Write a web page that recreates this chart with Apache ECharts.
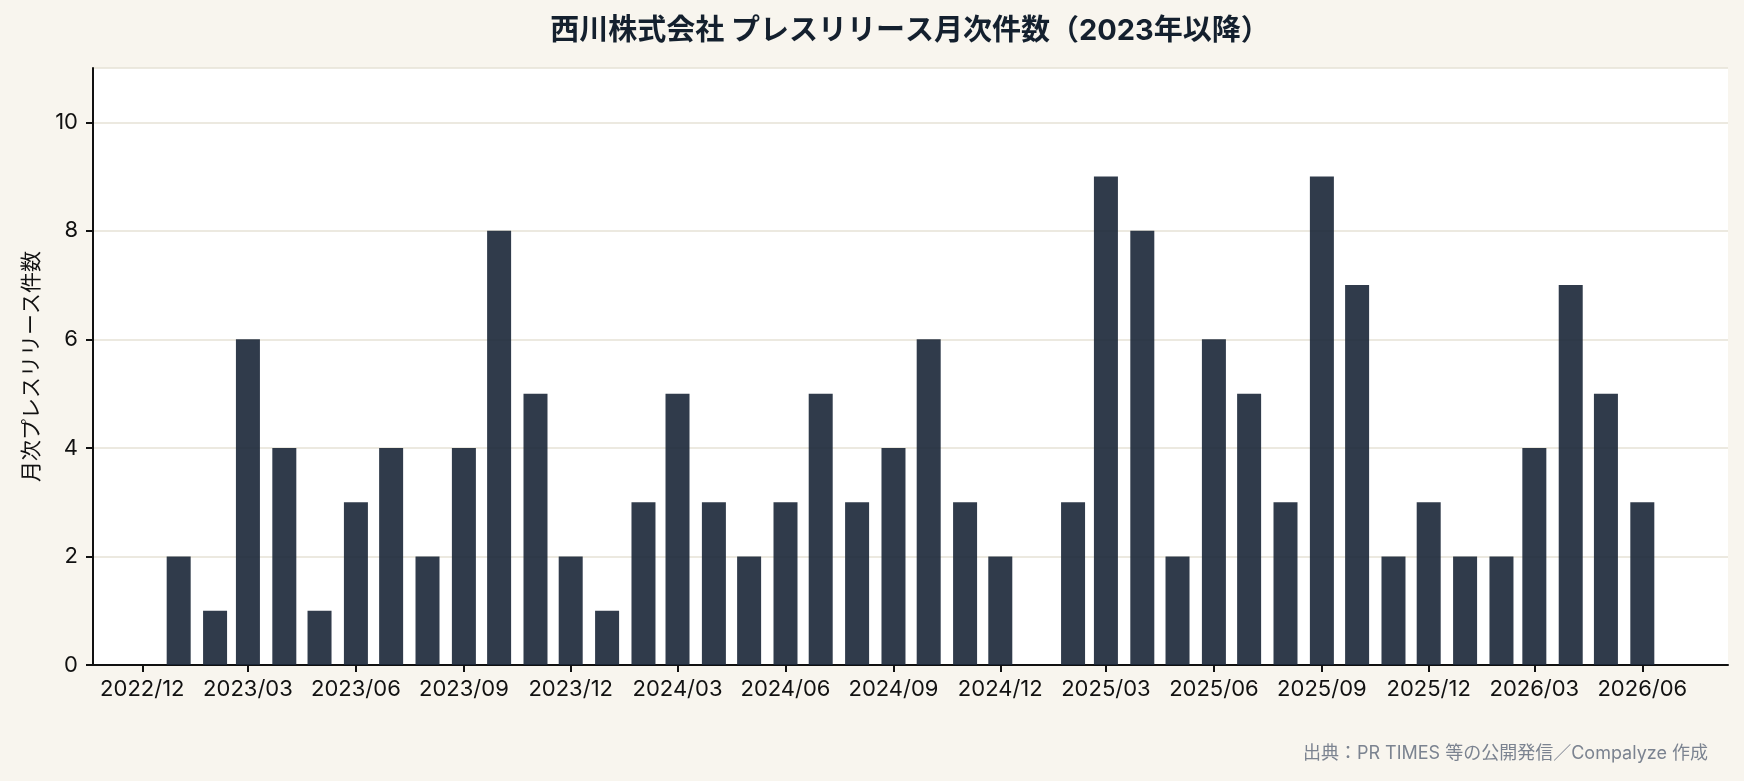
<!DOCTYPE HTML>
<html>
	<head>
		<meta http-equiv="Content-type" content="text/html; charset=UTF-8" />
		<script type="text/javascript" src="https://cdn.jsdelivr.net/npm/echarts@6/dist/echarts.min.js"></script>
		<style>
			html, body { margin: 0; padding: 0; background: #f8f5ee; }
			#div_1 { width: 1744px; height: 781px; }
		</style>
		<script type="text/javascript">
			// 月次データ（2023/01〜2026/06）
			var months = [
				'2023-01','2023-02','2023-03','2023-04','2023-05','2023-06','2023-07','2023-08','2023-09','2023-10','2023-11','2023-12',
				'2024-01','2024-02','2024-03','2024-04','2024-05','2024-06','2024-07','2024-08','2024-09','2024-10','2024-11','2024-12',
				'2025-01','2025-02','2025-03','2025-04','2025-05','2025-06','2025-07','2025-08','2025-09','2025-10','2025-11','2025-12',
				'2026-01','2026-02','2026-03','2026-04','2026-05','2026-06'
			];
			var counts = [
				2, 1, 6, 4, 1, 3, 4, 2, 4, 8, 5, 2,
				1, 3, 5, 3, 2, 3, 5, 3, 4, 6, 3, 2,
				0, 3, 9, 8, 2, 6, 5, 3, 9, 7, 2, 3,
				2, 2, 4, 7, 5, 3
			];
			// x軸の目盛（3か月ごと）
			var tickMonths = ['2022-12','2023-03','2023-06','2023-09','2023-12','2024-03','2024-06','2024-09','2024-12',
				'2025-03','2025-06','2025-09','2025-12','2026-03','2026-06'];

			function toTime(s) {
				var p = s.split('-');
				return Date.UTC(+p[0], +p[1] - 1, +p[2] || 1);
			}
			function pad(n) { return n < 10 ? '0' + n : '' + n; }

			window.onload = function () {
				var myChart = echarts.init(document.getElementById('div_1'));
				var font = "Inter, 'Noto Sans CJK JP', sans-serif";
				var data = months.map(function (m, i) { return [toTime(m), counts[i]]; });
				var ticks = tickMonths.map(toTime);

				var option = {
					backgroundColor: '#f8f5ee',
					textStyle: { fontFamily: font },
					// タイトルはプロット領域の中央に置く
					graphic: [{
						type: 'text',
						x: 910,
						y: 31,
						style: {
							text: '西川株式会社 プレスリリース月次件数（2023年以降）',
							fill: '#14202e',
							font: "bold 29px Inter, 'Noto Sans CJK JP', sans-serif",
							align: 'center',
							verticalAlign: 'middle'
						}
					}, {
						type: 'text',
						right: 36,
						top: 745,
						style: {
							text: '出典：PR TIMES 等の公開発信／Compalyze 作成',
							fill: '#7b8390',
							font: "18px Inter, 'Noto Sans CJK JP', sans-serif"
						}
					}],
					grid: {
						left: 93, right: 16, top: 68, bottom: 116,
						show: true, backgroundColor: '#ffffff', borderWidth: 0
					},
					xAxis: {
						type: 'value',
						min: toTime('2022-10-20'),
						max: toTime('2026-08-13'),
						axisLine: { onZero: false, lineStyle: { color: '#111111', width: 2 } },
						axisTick: { show: true, customValues: ticks, length: 7, lineStyle: { color: '#111111', width: 2 } },
						axisLabel: {
							customValues: ticks,
							color: '#111111',
							fontSize: 22,
							margin: 13,
							fontFamily: font,
							formatter: function (v) {
								var d = new Date(v);
								return d.getUTCFullYear() + '/' + pad(d.getUTCMonth() + 1);
							}
						},
						splitLine: { show: false }
					},
					yAxis: {
						type: 'value',
						min: 0,
						max: 11,
						interval: 2,
						name: '月次プレスリリース件数',
						nameLocation: 'middle',
						nameRotate: 90,
						nameGap: 51,
						nameTextStyle: { fontSize: 21, color: '#111111', fontFamily: font },
						axisLine: { show: true, lineStyle: { color: '#111111', width: 2 } },
						axisTick: { show: true, length: 7, lineStyle: { color: '#111111', width: 2 } },
						axisLabel: { color: '#111111', fontSize: 22, margin: 15, fontFamily: font, showMaxLabel: false },
						splitLine: { show: true, lineStyle: { color: '#e6e2d6', width: 1.5 } }
					},
					series: [{
						type: 'bar',
						data: data,
						barWidth: 24,
						itemStyle: { color: 'rgba(26,38,55,0.9)' }
					}]
				};
				myChart.setOption(option);
			};
		</script>
	</head>
	<body>
		<div id="div_1"></div>
	</body>
</html>
